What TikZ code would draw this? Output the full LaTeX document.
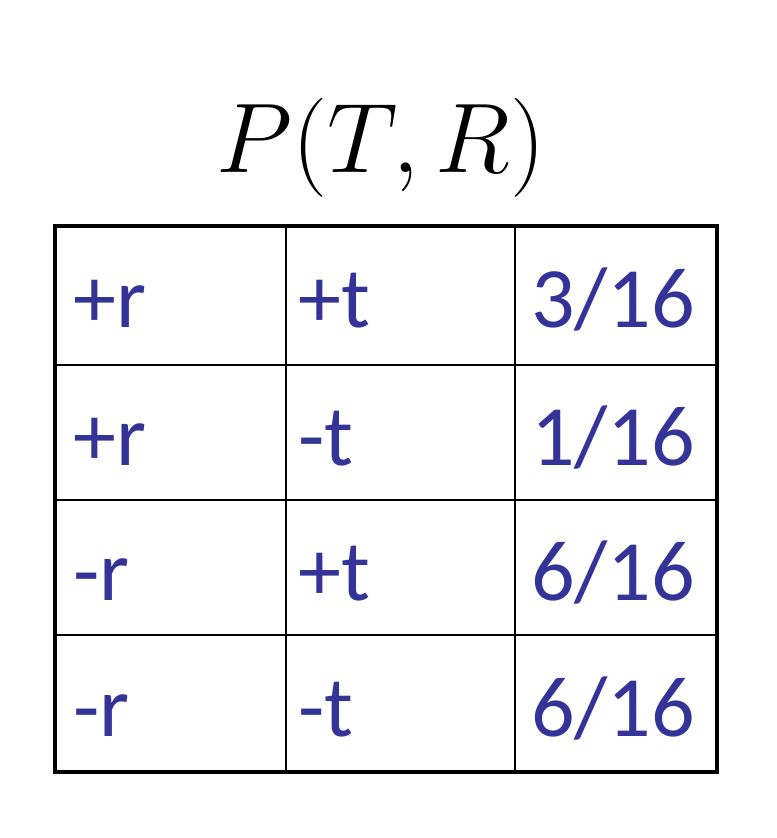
\RequirePackage{fix-cm}
\documentclass[tikz,border=0pt]{standalone}
\usepackage{fontspec}
\setsansfont{Carlito}
\definecolor{entryblue}{RGB}{52,52,152}
\begin{document}
\begin{tikzpicture}[x=0.5pt, y=-0.5pt,
  Entry/.style={font=\sffamily\fontsize{43}{43}\selectfont, text=entryblue, inner sep=0pt},
  Frame/.style={line width=2pt},
  Rule/.style={line width=1.4pt}]
\useasboundingbox (0,0) rectangle (776,838);

\node [anchor=base, font=\fontsize{49.5}{49.5}\selectfont] (title) at (381,173) {$P(T,R)$};

\draw [Frame] (55,226) rectangle (717,772);
\foreach \x in {286, 515} {
  \draw [Rule] (\x,226) -- (\x,772);
}
\foreach \y in {365, 500, 635} {
  \draw [Rule] (55,\y) -- (717,\y);
}

\foreach \y/\r/\t/\p/\name in {328/+r/+t/3\slash16/a, 465/+r/-t/1\slash16/b, 600/-r/+t/6\slash16/c, 736/-r/-t/6\slash16/d} {
  \node [Entry, anchor=base west] (r\name) at (73,\y) {\r};
  \node [Entry, anchor=base west] (t\name) at (298,\y) {\t};
  \node [Entry, anchor=base] (p\name) at (613,\y) {\p};
}
\end{tikzpicture}
\end{document}
